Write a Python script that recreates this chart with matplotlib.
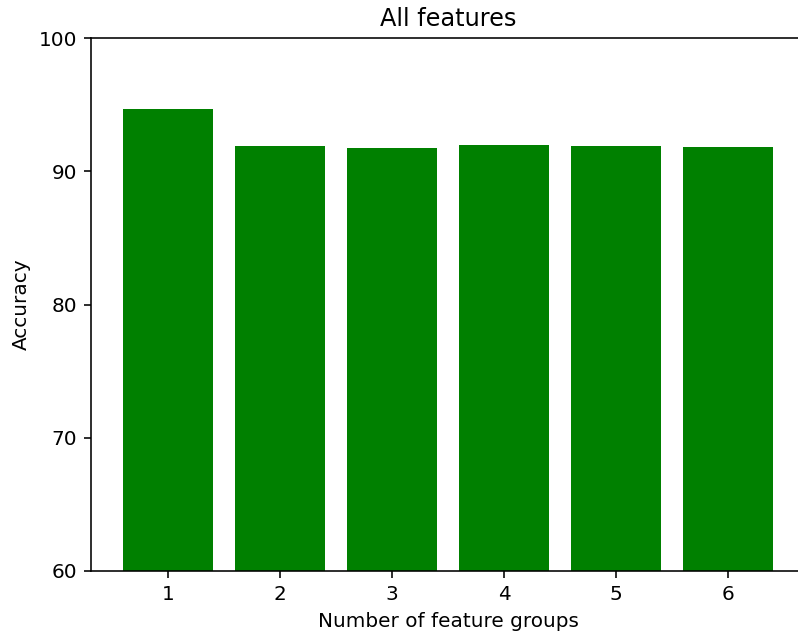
import matplotlib
matplotlib.use("Agg")
import matplotlib.pyplot as plt

groups = [1, 2, 3, 4, 5, 6]
accuracy = [94.70, 91.90, 91.73, 91.95, 91.90, 91.82]

s = 1.44
plt.rcParams.update({
    "font.size": 10 * s,
    "axes.linewidth": 0.8 * s,
    "xtick.major.width": 0.8 * s,
    "ytick.major.width": 0.8 * s,
    "xtick.major.size": 3.5 * s,
    "ytick.major.size": 3.5 * s,
    "xtick.major.pad": 3.5 * s,
    "ytick.major.pad": 3.5 * s,
    "axes.labelpad": 4.0 * s,
    "axes.titlepad": 6.0 * s,
})

fig = plt.figure(figsize=(7.98, 6.37), dpi=100)
ax = fig.add_axes([91 / 798, 66 / 637, 714 / 798, 533 / 637])
ax.bar(groups, accuracy, width=0.8, color="green")
ax.set_ylim(60, 100)
ax.set_yticks([60, 70, 80, 90, 100])
ax.set_xticks(groups)
ax.set_xlabel("Number of feature groups")
ax.set_ylabel("Accuracy")
ax.set_title("All features", fontsize=12 * s)
fig.savefig("out.png", dpi=100)
